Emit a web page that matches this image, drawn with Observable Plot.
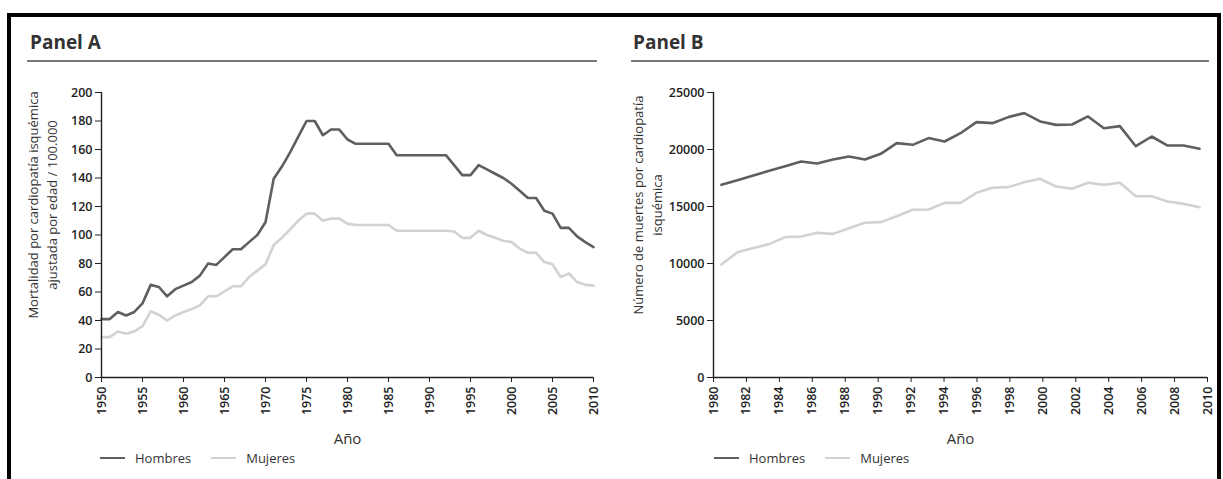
<!DOCTYPE html>
<html>
<head>
<meta charset="utf-8">
<script src="https://cdn.jsdelivr.net/npm/d3@7"></script>
<script src="https://cdn.jsdelivr.net/npm/@observablehq/plot@0.6"></script>
<style>
  body { margin: 0; background: #fff; font-family: "Open Sans", sans-serif; }
  #page { position: relative; width: 1223px; height: 479px; overflow: hidden; background: #fff; }
  .frame { position: absolute; left: 7px; top: 13px; width: 1206px; height: 480px; border: 4px solid #000; border-bottom: none; }
  .title { position: absolute; top: 33px; font-weight: 700; font-size: 19px; line-height: 19px; color: #333; }
  .rule { position: absolute; top: 60px; height: 2px; background: #777; }
  .chart { position: absolute; top: 70px; }
  .legend { position: absolute; top: 449px; height: 18px; display: flex; align-items: center; font-size: 13px; color: #333; }
  .legend .item { display: flex; align-items: center; margin-right: 20px; }
  .legend .sw { display: inline-block; width: 25px; height: 2.5px; margin-right: 10px; }
</style>
</head>
<body>
<div id="page">
  <div class="frame"></div>
  <div class="title" style="left:30px">Panel A</div>
  <div class="rule" style="left:27px;width:570px"></div>
  <div class="title" style="left:633px">Panel B</div>
  <div class="rule" style="left:631px;width:578px"></div>
  <div class="chart" id="chartA" style="left:0px"></div>
  <div class="chart" id="chartB" style="left:610px"></div>
  <div class="legend" id="legendA" style="left:100px"></div>
  <div class="legend" id="legendB" style="left:714px"></div>
</div>
<script>
// Series names and colours
const seriesNames = ["Hombres", "Mujeres"];
const seriesColors = ["#5f5f5f", "#d2d2d2"];

// Panel A: age-adjusted ischaemic heart disease mortality per 100,000, 1950–2010
const yearsA = d3.range(1950, 2011);
const hombresA = [
  41, 41, 46, 43.5, 46, 52, 65, 63.5, 57, 62,
  64.5, 67, 71.5, 80, 79, 84.5, 90, 90, 95, 100,
  109, 139.5, 148, 158, 169, 180, 180, 170, 174, 174,
  167, 164, 164, 164, 164, 164, 156, 156, 156, 156,
  156, 156, 156, 149, 142, 142, 149, 146, 143, 140,
  136, 131, 126, 126, 117, 115, 105, 105, 99, 95, 91.5
];
const mujeresA = [
  28.3, 28.3, 32.3, 30.7, 32.3, 36, 46.4, 44, 40, 43.5,
  46, 48, 50.6, 57, 57, 60.4, 64, 64, 70.5, 75,
  79.4, 93, 98, 104, 110, 115, 115, 110, 111.5, 111.5,
  108, 107, 107, 107, 107, 107, 103, 103, 103, 103,
  103, 103, 103, 102.5, 98, 98, 103, 100, 98, 96,
  95, 90.5, 87.5, 87.5, 81, 79.5, 70.5, 73, 67, 65, 64.5
];
const xTicksA = [1950, 1955, 1960, 1965, 1970, 1975, 1980, 1985, 1990, 1995, 2000, 2005, 2010];
const yTicksA = [0, 20, 40, 60, 80, 100, 120, 140, 160, 180, 200];

// Panel B: number of ischaemic heart disease deaths, 1980–2010
const yearsB = d3.range(1980, 2011);
const hombresB = [
  16900, 17300, 17720, 18130, 18540, 18950, 18770, 19120, 19390, 19120,
  19620, 20560, 20410, 21000, 20700, 21430, 22400, 22310, 22840, 23190,
  22460, 22160, 22190, 22900, 21870, 22050, 20290, 21140, 20350, 20350, 20060
];
const mujeresB = [
  9910, 10990, 11350, 11700, 12310, 12370, 12690, 12600, 13100, 13570,
  13630, 14150, 14710, 14740, 15320, 15320, 16200, 16640, 16700, 17130,
  17430, 16750, 16550, 17080, 16900, 17080, 15900, 15900, 15440, 15230, 14940
];
const xTicksB = d3.range(1980, 2011, 2);
const yTicksB = [0, 5000, 10000, 15000, 20000, 25000];

const toRows = (years, values) => years.map((year, i) => ({year, value: values[i]}));

// Panel B years are spread as category centres across the 1980–2010 axis
const nB = yearsB.length;
const catPos = (year) => 1980 + (year - 1980 + 0.5) * (2010 - 1980) / nB;

const axisColor = "#222";

function panel({rows, xDomain, yDomain, xTicks, yTicks, xPos, yTitle, titleDx, marginLeft, marginRight}) {
  const [rowsH, rowsM] = rows;
  return Plot.plot({
    width: 610,
    height: 390,
    marginTop: 22,
    marginBottom: 83,
    marginLeft,
    marginRight,
    style: {fontFamily: "Open Sans, sans-serif", fontSize: "12.5px", color: "#333", background: "transparent", overflow: "visible"},
    x: {domain: xDomain},
    y: {domain: yDomain},
    marks: [
      Plot.line(rowsM, {x: xPos, y: "value", stroke: seriesColors[1], strokeWidth: 2.6}),
      Plot.line(rowsH, {x: xPos, y: "value", stroke: seriesColors[0], strokeWidth: 2.6}),
      Plot.axisY({ticks: yTicks, tickSize: 6, tickPadding: 3, tickFormat: d3.format("d"), label: null,
        stroke: axisColor, fill: "#222", fontWeight: 600, fontSize: 12.5}),
      Plot.axisX({ticks: xTicks, tickSize: 5, tickPadding: 4, tickRotate: -90, tickFormat: d3.format("d"), label: null,
        stroke: axisColor, fill: "#222", fontWeight: 600, fontSize: 12.5}),
      Plot.ruleX([xDomain[0]], {stroke: axisColor, strokeWidth: 1.4}),
      Plot.ruleY([yDomain[0]], {stroke: axisColor, strokeWidth: 1.4}),
      Plot.text([yTitle], {frameAnchor: "left", textAnchor: "middle", lineAnchor: "middle", rotate: -90,
        dx: titleDx, dy: -30, lineHeight: 1.45, fontSize: 13, fill: "#333"}),
      Plot.text(["Año"], {frameAnchor: "bottom", lineAnchor: "middle", dy: 62, fontSize: 15, fill: "#333"})
    ]
  });
}

document.getElementById("chartA").append(panel({
  rows: [toRows(yearsA, hombresA), toRows(yearsA, mujeresA)],
  xDomain: [1950, 2010], yDomain: [0, 200],
  xTicks: xTicksA, yTicks: yTicksA,
  xPos: "year",
  yTitle: "Mortalidad por cardiopatía isquémica\najustada por edad / 100.000",
  titleDx: -60,
  marginLeft: 101, marginRight: 17
}));

document.getElementById("chartB").append(panel({
  rows: [toRows(yearsB, hombresB), toRows(yearsB, mujeresB)],
  xDomain: [1980, 2010], yDomain: [0, 25000],
  xTicks: xTicksB, yTicks: yTicksB,
  xPos: (d) => catPos(d.year),
  yTitle: "Número de muertes por cardiopatía\nisquémica",
  titleDx: -67,
  marginLeft: 103, marginRight: 13
}));

// Legends
for (const id of ["legendA", "legendB"]) {
  const el = document.getElementById(id);
  seriesNames.forEach((name, i) => {
    const item = document.createElement("span");
    item.className = "item";
    const sw = document.createElement("span");
    sw.className = "sw";
    sw.style.background = seriesColors[i];
    item.append(sw, document.createTextNode(name));
    el.append(item);
  });
}
</script>
</body>
</html>
